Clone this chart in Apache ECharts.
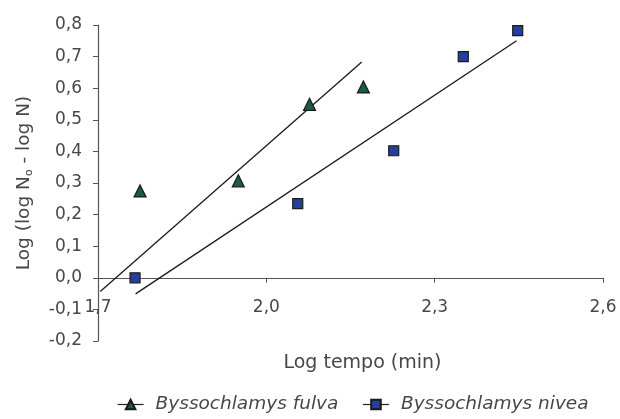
<!DOCTYPE html>
<html>
<head>
<meta charset="utf-8">
<script src="https://cdn.jsdelivr.net/npm/echarts@6/dist/echarts.min.js"></script>
<style>
  html, body { margin: 0; padding: 0; background: #fff; }
  #chart { width: 620px; height: 419px; }
</style>
</head>
<body>
<div id="chart"></div>
<script>
// Observed points (log time in min vs log(log N0 - log N))
const fulvaX = [1.775, 1.950, 2.077, 2.173];
const fulvaY = [0.275, 0.307, 0.549, 0.604];
const niveaX = [1.766, 2.056, 2.227, 2.351, 2.448];
const niveaY = [0.000, 0.235, 0.402, 0.700, 0.782];

// Fitted trend lines: start and end points
const fulvaTrendX = [1.704, 2.170];
const fulvaTrendY = [-0.043, 0.683];
const niveaTrendX = [1.767, 2.446];
const niveaTrendY = [-0.051, 0.750];

const xTicks = { min: 1.7, max: 2.6, step: 0.3 };
const yTicks = { min: -0.2, max: 0.8, step: 0.1 };

const seriesNames = ['Byssochlamys fulva', 'Byssochlamys nivea'];

const pairs = (xs, ys) => xs.map((x, i) => [x, ys[i]]);
const comma = v => v.toFixed(1).replace('.', ',');

const FONT = 'DejaVu Sans';
const TEXT = '#474747';
const AXIS = '#555';

const chart = echarts.init(document.getElementById('chart'), null, { renderer: 'canvas' });

chart.setOption({
  animation: false,
  backgroundColor: '#fff',
  textStyle: { fontFamily: FONT },
  grid: { left: 98, right: 17, top: 25, bottom: 78, outerBoundsMode: 'none', containLabel: false },
  xAxis: {
    type: 'value',
    min: xTicks.min, max: xTicks.max, interval: xTicks.step,
    name: 'Log tempo (min)',
    nameLocation: 'middle',
    nameGap: 13,
    nameMoveOverlap: false,
    nameTextStyle: { fontFamily: FONT, fontSize: 19, color: TEXT, padding: [0, 0, 0, 24] },
    axisLine: { onZero: true, lineStyle: { color: AXIS, width: 1.2 } },
    axisTick: { show: true, inside: false, length: 5, lineStyle: { color: AXIS } },
    axisLabel: {
      fontFamily: FONT, fontSize: 17, color: TEXT, margin: -42,
      formatter: v => comma(v)
    },
    splitLine: { show: false }
  },
  yAxis: {
    type: 'value',
    min: yTicks.min, max: yTicks.max, interval: yTicks.step,
    name: '{t|Log (log N}{s|o}{t| - log N)}',
    nameLocation: 'middle',
    nameGap: 63,
    nameRotate: 90,
    nameMoveOverlap: false,
    nameTextStyle: {
      fontFamily: FONT, fontSize: 18, color: TEXT,
      rich: {
        t: { fontFamily: FONT, fontSize: 18.5, color: TEXT, lineHeight: 22 },
        s: { fontFamily: FONT, fontSize: 11, color: TEXT, verticalAlign: 'bottom', lineHeight: 12, padding: [7, 0, 0, 0] }
      }
    },
    axisLine: { show: true, onZero: false, lineStyle: { color: AXIS, width: 1.2 } },
    axisTick: { show: true, inside: false, length: 5, lineStyle: { color: AXIS } },
    axisLabel: {
      fontFamily: FONT, fontSize: 17, color: TEXT, margin: 16,
      formatter: v => comma(v)
    },
    splitLine: { show: false }
  },
  legend: {
    top: 395,
    left: 117,
    padding: 0,
    itemWidth: 26,
    itemHeight: 12,
    itemGap: 24,
    textStyle: { fontFamily: FONT, fontSize: 18.5, fontStyle: 'italic', color: TEXT, padding: [0, 0, 0, 7] },
    data: seriesNames.map(n => ({
      name: n,
      lineStyle: { color: '#222', width: 1.2, opacity: 1 }
    }))
  },
  series: [
    {
      name: seriesNames[0],
      type: 'line',
      data: pairs(fulvaX, fulvaY),
      symbol: 'triangle',
      symbolSize: 12,
      showAllSymbol: true,
      itemStyle: { color: '#195c47', borderColor: '#1a1a1a', borderWidth: 1.2 },
      lineStyle: { opacity: 0, width: 0 },
      z: 4
    },
    {
      name: seriesNames[1],
      type: 'line',
      data: pairs(niveaX, niveaY),
      symbol: 'rect',
      symbolSize: 10,
      showAllSymbol: true,
      itemStyle: { color: '#263f9c', borderColor: '#1a1a1a', borderWidth: 1.2 },
      lineStyle: { opacity: 0, width: 0 },
      z: 4
    },
    {
      name: 'fulva-trend',
      type: 'line',
      data: pairs(fulvaTrendX, fulvaTrendY),
      symbol: 'none',
      lineStyle: { color: '#1a1a1a', width: 1.3 },
      z: 3
    },
    {
      name: 'nivea-trend',
      type: 'line',
      data: pairs(niveaTrendX, niveaTrendY),
      symbol: 'none',
      lineStyle: { color: '#1a1a1a', width: 1.3 },
      z: 3
    }
  ]
});
</script>
</body>
</html>
